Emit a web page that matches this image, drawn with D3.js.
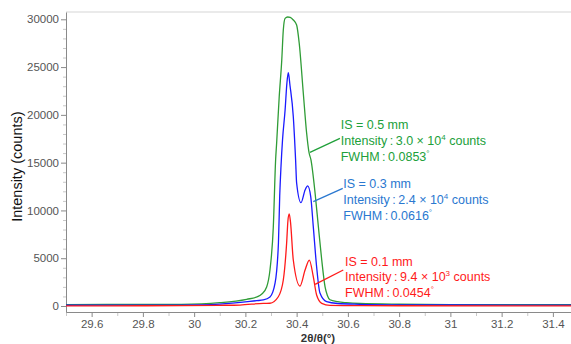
<!DOCTYPE html>
<html>
<head>
<meta charset="utf-8">
<script src="https://cdn.jsdelivr.net/npm/d3@7"></script>
<style>
  html, body { margin: 0; padding: 0; background: #fff; }
  svg { display: block; font-family: "Liberation Sans", Arial, sans-serif; }
</style>
</head>
<body>
<svg id="chart" width="571" height="344"></svg>
<script>
// ---- data (2θ/θ in degrees, intensity in counts) ----
const xTicks = [29.6, 29.8, 30, 30.2, 30.4, 30.6, 30.8, 31, 31.2, 31.4];
const xTickLabels = ["29.6", "29.8", "30", "30.2", "30.4", "30.6", "30.8", "31", "31.2", "31.4"];
const yTicks = [0, 5000, 10000, 15000, 20000, 25000, 30000];

const thetaGreen = [29.50, 29.80, 29.95, 30.10, 30.205, 30.25, 30.264, 30.283, 30.296, 30.309, 30.318, 30.322, 30.332, 30.342, 30.348, 30.355, 30.365, 30.375, 30.387, 30.400, 30.410, 30.426, 30.439, 30.448, 30.456, 30.472, 30.485, 30.498, 30.511, 30.520, 30.530, 30.560, 30.595, 30.647, 30.80, 31.00, 31.20, 31.48];
const intGreen   = [150, 165, 180, 350, 700, 1000, 1250, 1990, 3770, 8270, 15280, 17060, 21870, 25740, 28880, 30100, 30240, 30200, 29930, 29400, 27520, 22290, 18100, 16115, 15280, 11820, 8270, 4810, 2000, 1100, 650, 450, 345, 262, 185, 150, 140, 130];

const thetaBlue = [29.50, 29.80, 29.95, 30.10, 30.244, 30.270, 30.296, 30.316, 30.329, 30.334, 30.339, 30.345, 30.355, 30.362, 30.3675, 30.374, 30.387, 30.396, 30.400, 30.417, 30.433, 30.443, 30.455, 30.465, 30.478, 30.491, 30.517, 30.560, 30.647, 30.80, 31.00, 31.48];
const intBlue   = [80, 90, 100, 200, 555, 630, 940, 2410, 6600, 11500, 14600, 17400, 20510, 23300, 24410, 23100, 19810, 15280, 12870, 10810, 12140, 12560, 11440, 8300, 4110, 1360, 450, 260, 178, 120, 105, 90];

const thetaRed = [29.50, 29.80, 29.95, 30.10, 30.179, 30.270, 30.296, 30.3285, 30.348, 30.361, 30.366, 30.371, 30.376, 30.387, 30.413, 30.433, 30.4495, 30.465, 30.478, 30.498, 30.530, 30.647, 30.80, 31.48];
const intRed   = [20, 25, 40, 70, 100, 280, 290, 970, 2720, 6590, 8900, 9630, 8800, 4810, 2090, 3770, 4810, 3070, 1150, 280, 60, 30, 25, 20];

const seriesNames = ["IS = 0.5 mm", "IS = 0.3 mm", "IS = 0.1 mm"];
const intensityTexts = [["3.0", "4"], ["2.4", "4"], ["9.4", "3"]];
const fwhmTexts = ["0.0853", "0.0616", "0.0454"];

// ---- layout / style ----
const W = 571, H = 344;
const lineColors = ["#2f9c36", "#1a1aff", "#ff1a1a"];
const textColors = ["#20a03a", "#2a78d0", "#ff1a1a"];

const x = d3.scaleLinear().domain([29.5, 31.4707]).range([66, 571]);
const y = d3.scaleLinear().domain([-628, 30764]).range([312, 12]);

const svg = d3.select("#chart");

// top frame
svg.append("line")
  .attr("x1", x(29.5)).attr("x2", W).attr("y1", y(30764)).attr("y2", y(30764))
  .attr("stroke", "#e3e3e3").attr("stroke-width", 1.6);

// minor ticks
const xMinor = d3.range(29.5, 31.47, 0.1).filter(v => Math.abs(Math.round(v * 10) % 2) === 1);
svg.append("g").attr("transform", `translate(0,${y(-628)})`)
  .call(d3.axisBottom(x).tickValues(xMinor).tickSize(4).tickFormat(""))
  .call(g => g.select(".domain").remove())
  .call(g => g.selectAll("line").attr("stroke", "#c8c8c8"));
const yMinor = d3.range(1000, 30001, 1000).filter(v => v % 5000 !== 0);
svg.append("g").attr("transform", `translate(${x(29.5)},0)`)
  .call(d3.axisLeft(y).tickValues(yMinor).tickSize(3).tickFormat(""))
  .call(g => g.select(".domain").remove())
  .call(g => g.selectAll("line").attr("stroke", "#c8c8c8"));

// x axis
const gx = svg.append("g").attr("transform", `translate(0,${y(-628)})`)
  .call(d3.axisBottom(x).tickValues(xTicks).tickSize(5).tickSizeOuter(0)
    .tickFormat((d, i) => xTickLabels[i]).tickPadding(3));
gx.select(".domain").attr("stroke", "#8a8a8a");
gx.selectAll(".tick line").attr("stroke", "#8a8a8a");
gx.selectAll("text").attr("fill", "#555").attr("font-size", 11.5)
  .attr("font-family", "Liberation Sans, Arial, sans-serif");

// y axis
const gy = svg.append("g").attr("transform", `translate(${x(29.5)},0)`)
  .call(d3.axisLeft(y).tickValues(yTicks).tickSize(5).tickSizeOuter(0).tickPadding(2)
    .tickFormat(d3.format("d")));
gy.select(".domain").attr("stroke", "#8a8a8a");
gy.selectAll(".tick line").attr("stroke", "#8a8a8a");
gy.selectAll("text").attr("fill", "#555").attr("font-size", 11.5)
  .attr("font-family", "Liberation Sans, Arial, sans-serif");

// axis titles
svg.append("text")
  .attr("transform", `translate(22,${(y(0) + y(30000)) / 2 + 4}) rotate(-90)`)
  .attr("text-anchor", "middle").attr("font-size", 14.5).attr("fill", "#111")
  .text("Intensity (counts)");
svg.append("text")
  .attr("x", 318).attr("y", 342)
  .attr("text-anchor", "middle").attr("font-size", 11.5).attr("font-weight", "bold").attr("fill", "#333")
  .text("2θ/θ(°)");

// curves
const line = d3.line().x(d => x(d[0])).y(d => y(d[1])).curve(d3.curveMonotoneX);
const series = [
  d3.zip(thetaGreen, intGreen),
  d3.zip(thetaBlue, intBlue),
  d3.zip(thetaRed, intRed)
];
svg.append("defs").append("clipPath").attr("id", "clip")
  .append("rect").attr("x", x(29.5)).attr("y", 12).attr("width", W - x(29.5)).attr("height", 300);
const gLines = svg.append("g").attr("clip-path", "url(#clip)");
series.forEach((s, i) => {
  gLines.append("path").datum(s)
    .attr("fill", "none").attr("stroke", lineColors[i]).attr("stroke-width", 1.3)
    .attr("stroke-linejoin", "round")
    .attr("d", line);
});

// annotations (positions in data coordinates)
const leaders = [
  [[30.452, 16083], [30.569, 17548]],
  [[30.465, 10914], [30.580, 12316]],
  [[30.472, 2271], [30.582, 3767]]
];
const textAnchors = [[30.572, 18490], [30.582, 12316], [30.589, 4217]];
const lineGap = 15.8;

leaders.forEach((l, i) => {
  svg.append("line")
    .attr("x1", x(l[0][0])).attr("y1", y(l[0][1]))
    .attr("x2", x(l[1][0])).attr("y2", y(l[1][1]))
    .attr("stroke", textColors[i]).attr("stroke-width", 1.3);
});

textAnchors.forEach((a, i) => {
  const g = svg.append("g").attr("fill", textColors[i]).attr("font-size", 12.5);
  const tx = x(a[0]), ty = y(a[1]);
  g.append("text").attr("x", tx).attr("y", ty).text(seriesNames[i]);
  const t2 = g.append("text").attr("x", tx).attr("y", ty + lineGap);
  t2.append("tspan").text("Intensity\u2009:\u2009" + intensityTexts[i][0] + " \u00d7 10");
  t2.append("tspan").attr("font-size", 8).attr("dy", -5).text(intensityTexts[i][1]);
  t2.append("tspan").attr("dy", 5).text(" counts");
  const t3 = g.append("text").attr("x", tx).attr("y", ty + 2 * lineGap);
  t3.append("tspan").text("FWHM\u2009:\u2009" + fwhmTexts[i]);
  t3.append("tspan").attr("font-size", 8).attr("dy", -5).text("°");
});
</script>
</body>
</html>
